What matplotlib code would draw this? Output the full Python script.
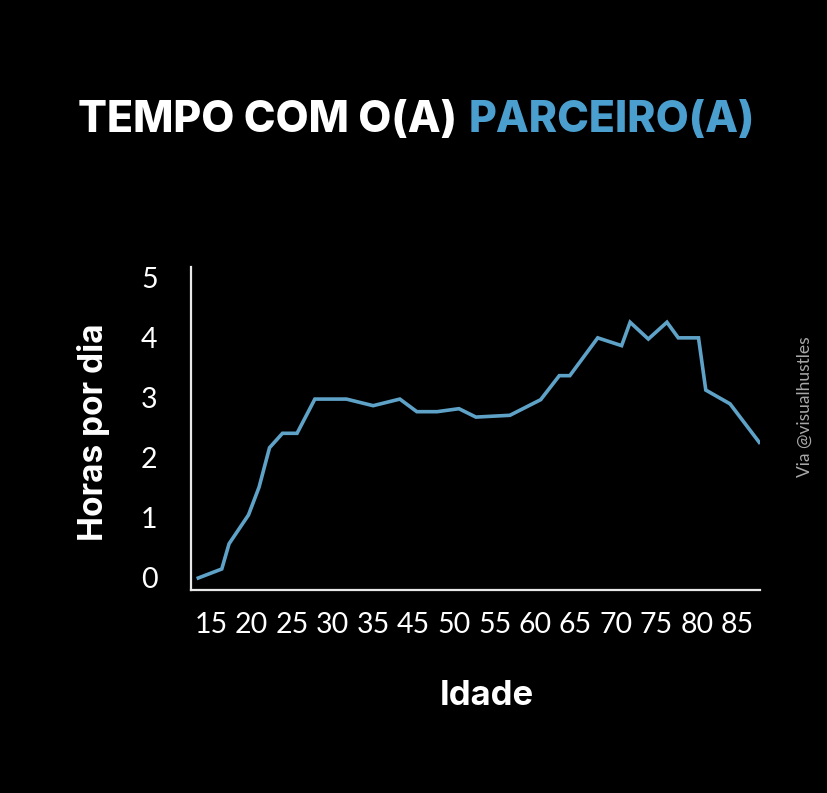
import numpy as np
import matplotlib
matplotlib.use("Agg")
import matplotlib.pyplot as plt

# dados (posicao no eixo x em "idade", horas por dia)
idade = [13.4, 16.3, 17.2, 19.6, 20.9, 22.2, 23.8, 25.6, 27.8, 31.7,
         35.0, 38.3, 40.4, 42.9, 45.6, 47.7, 51.9, 55.7, 58.0, 59.3,
         62.75, 65.7, 66.75, 69.0, 71.3, 72.7, 75.2, 76.1, 79.1, 82.7]
horas = [0.0, 0.15, 0.57, 1.05, 1.51, 2.17, 2.41, 2.41, 2.98, 2.98,
         2.87, 2.98, 2.77, 2.77, 2.82, 2.68, 2.71, 2.97, 3.37, 3.37,
         4.0, 3.87, 4.26, 3.98, 4.26, 4.0, 4.0, 3.13, 2.9, 2.26]

xticks_pos = [15, 20, 25, 30, 35, 40, 45, 50, 55, 60, 65, 70, 75, 80]
xticks_lab = ["15", "20", "25", "30", "35", "45", "50", "55", "60",
              "65", "70", "75", "80", "85"]
yticks = [0, 1, 2, 3, 4, 5]

azul_linha = "#5fa2c8"
azul_titulo = "#4a9fcf"

fig = plt.figure(figsize=(8.28, 7.93), dpi=100, facecolor="black")
ax = fig.add_axes([0.2307, 0.2560, 0.6872, 0.4073])
ax.set_facecolor("black")

ax.plot(idade, horas, color=azul_linha, linewidth=2.6, solid_joinstyle="miter")

ax.set_xlim(12.5, 82.8)
ax.set_ylim(-0.2, 5.18)

for s in ["top", "right"]:
    ax.spines[s].set_visible(False)
for s in ["left", "bottom"]:
    ax.spines[s].set_color("#e8e8e8")
    ax.spines[s].set_linewidth(1.6)

ax.set_xticks(xticks_pos)
ax.set_xticklabels(xticks_lab)
ax.set_yticks(yticks)
ax.tick_params(axis="both", length=0, colors="white", labelsize=20.5)
ax.tick_params(axis="x", pad=16)
ax.tick_params(axis="y", pad=24)
for lab in ax.get_xticklabels() + ax.get_yticklabels():
    lab.set_family("Lato")
    lab.set_fontweight("normal")

# eixos
fig.text(94 / 828, 1 - 432 / 793, "Horas por dia", rotation=90, color="white",
         fontsize=24, fontweight="bold", family="Inter", ha="center", va="center")
fig.text(487 / 828, 1 - 696 / 793, "Idade", color="white", fontsize=25,
         fontweight="bold", family="Inter", ha="center", va="center")

# titulo em duas cores
t1 = fig.text(78 / 828, 1 - 132 / 793, "TEMPO COM O(A)", color="white",
              fontsize=30.8, fontweight="heavy", family="Inter", va="baseline")
fig.canvas.draw()
ax.annotate("PARCEIRO(A)", xy=(1, 0), xycoords=t1, xytext=(8.5, 0),
            textcoords="offset points", color=azul_titulo, fontsize=30.8,
            fontweight="heavy", family="Inter", va="bottom", ha="left",
            annotation_clip=False)

fig.text(805 / 828, 1 - 407 / 793, "Via @visualhustles", rotation=90,
         color="#a8a8a8", fontsize=12.5, family="Lato", fontweight="normal",
         ha="center", va="center")

fig.savefig("out.png", dpi=100, facecolor="black")
